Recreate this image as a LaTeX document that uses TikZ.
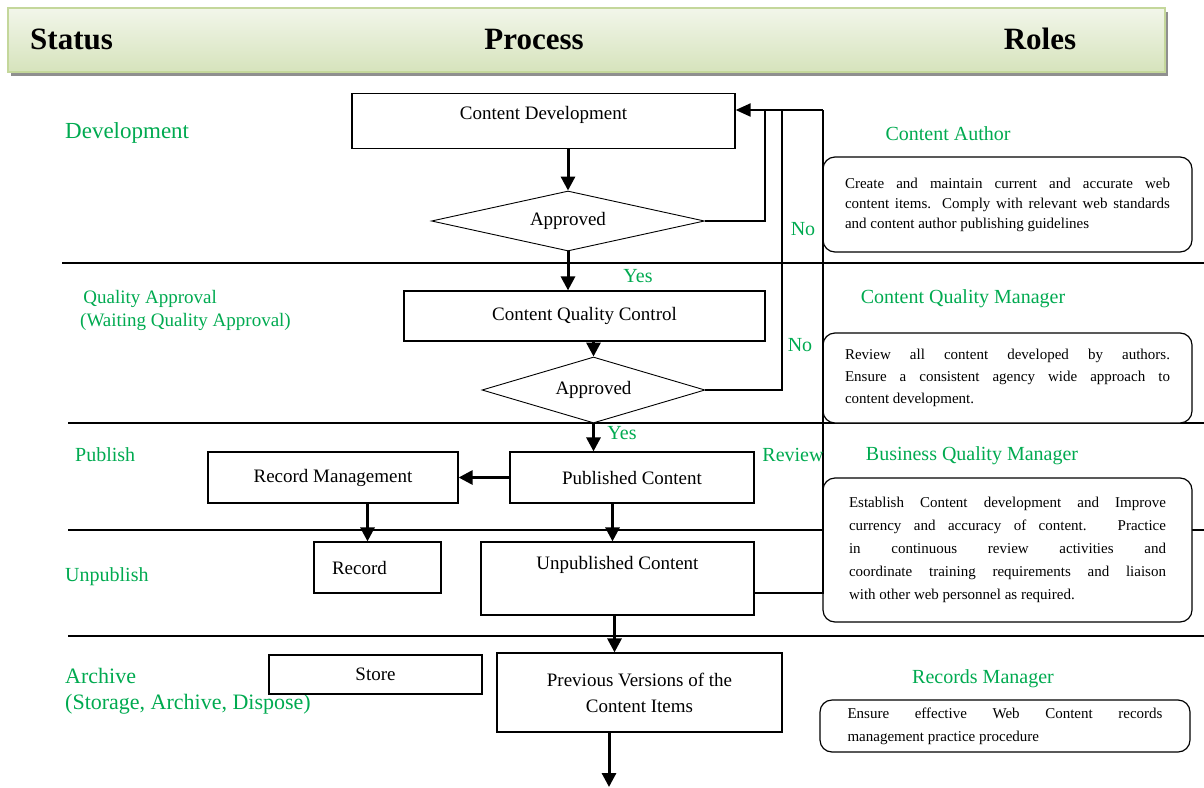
\documentclass[tikz,border=0pt]{standalone}
\usepackage{fontspec}
\setmainfont{Liberation Serif}
\usetikzlibrary{shapes.geometric,arrows.meta,shadows}
\definecolor{stgreen}{RGB}{0,170,80}
\definecolor{barline}{RGB}{196,215,155}
\definecolor{bartop}{RGB}{242,246,234}
\definecolor{barbot}{RGB}{214,227,188}
\newcommand{\fsz}[2]{\fontsize{#1}{#2}\selectfont}

\begin{document}
\begin{tikzpicture}[x = 1pt, y = -1pt,
    bar/.style = {draw=barline, line width=1.8pt, top color=bartop, bottom color=barbot,
      drop shadow={shadow xshift=3pt, shadow yshift=-4pt, fill=black!55, opacity=0.8}},
    head/.style = {font=\fsz{31}{36}\bfseries, inner sep=0pt},
    box/.style = {draw, fill=white, line width=1.2pt, inner sep=0pt, font=\fsz{19}{26}, align=center},
    dia/.style = {draw, diamond, fill=white, line width=0.9pt, inner sep=0pt, font=\fsz{19}{24}},
    role/.style = {draw, fill=white, rounded corners=12pt, line width=1.2pt, inner sep=0pt,
      text width=325pt, align=justify, font=\fsz{15}{22}},
    status/.style = {anchor=west, text=stgreen, inner sep=0pt, align=left, font=\fsz{20}{23}},
    lbl/.style = {text=stgreen, inner sep=0pt, font=\fsz{20}{24}},
    arr/.style = {line width=3pt, -{Triangle[width=14pt,length=14pt]}},
    fb/.style = {line width=1.5pt},
    sep/.style = {line width=1.4pt}]
    \useasboundingbox (0,0) rectangle (1204,787);

    \node[bar, minimum width=1157pt, minimum height=64pt] (bar) at (586.5,40) {};
    \node[head, anchor=base west] (hstatus) at (30,49) {Status};
    \node[head, anchor=base] (hprocess) at (534,49) {Process};
    \node[head, anchor=base] (hroles) at (1040,49) {Roles};

    \foreach \y/\x in {263/62, 423/68, 530/68, 636/68}
        \draw[sep] (\x,\y) -- (1204,\y);

    \node[status, font=\fsz{23}{26}] (sdev) at (65,133) {Development};
    \node[status, font=\fsz{19}{23}] (squal) at (80,310.5) {\,Quality Approval\\(Waiting Quality Approval)};
    \node[status] (spub) at (75,455) {Publish};
    \node[status] (sunpub) at (65,577) {Unpublish};
    \node[status, font=\fsz{22}{26}] (sarch) at (65,691) {Archive\\(Storage, Archive, Dispose)};

    \node[lbl] (rauthor) at (948,134) {Content Author};
    \node[lbl] (rcqm) at (963,299) {Content Quality Manager};
    \node[lbl] (rbqm) at (972,456) {Business Quality Manager};
    \node[lbl] (rrec) at (983,679) {Records Manager};

    \node[role, font=\fsz{15}{20}, minimum width=369pt, minimum height=95pt] (r1) at (1007.5,204.5)
        {Create and maintain current and accurate web\linebreak content items. Comply with relevant web standards\linebreak and content author publishing guidelines};
    \node[role, minimum width=369pt, minimum height=90pt] (r2) at (1007.5,378)
        {Review all content developed by authors.\linebreak Ensure a consistent agency wide approach to\linebreak content development.};
    \node[role, font=\fsz{15}{23}, minimum width=369pt, minimum height=144pt, text width=317pt] (r3) at (1007.5,550)
        {Establish Content development and Improve\linebreak currency and accuracy of content. Practice\linebreak in continuous review activities and\linebreak coordinate training requirements and liaison\linebreak with other web personnel as required.};
    \node[role, font=\fsz{15}{23}, minimum width=370pt, minimum height=52pt, text width=315pt] (r4) at (1005,726)
        {Ensure effective Web Content records\linebreak management practice procedure};

    \node[box, minimum width=383pt, text height=26pt, text depth=29pt, anchor=base] (dev) at (543.5,119.5) {Content Development};
    \node[dia, aspect=4.5, minimum width=273pt, minimum height=60pt] (ap1) at (568,221) {Approved};
    \node[box, minimum width=361pt, minimum height=50pt] (cqc) at (584.5,316) {Content Quality Control};
    \node[dia, aspect=3.4, minimum width=223pt, minimum height=66pt] (ap2) at (593.5,390) {Approved};
    \node[box, minimum width=244pt, minimum height=51pt] (pub) at (632,477.5) {Published Content};
    \node[box, minimum width=250pt, minimum height=51pt] (rm) at (333,477.5) {Record Management};
    \node[box, text width=91pt, inner xsep=18pt, align=left, minimum height=51pt] (rec) at (377.5,567.5) {Record};
    \node[box, minimum width=273pt, text height=27pt, text depth=46pt, anchor=base] (uc) at (617.5,569) {Unpublished Content};
    \node[box, minimum width=213pt, minimum height=39pt] (store) at (375.5,674.5) {Store};
    \node[box, minimum width=285pt, minimum height=79pt] (prev) at (639.5,692.5) {Previous Versions of the\\Content Items};
    \coordinate (out) at (609,787);

    \draw[arr] (dev.south -| ap1.north) -- (ap1.north);
    \draw[arr] (ap1.south) -- (ap1.south |- cqc.north);
    \draw[arr] (cqc.south -| ap2.north) -- (ap2.north);
    \draw[arr] (ap2.south) -- (ap2.south |- pub.north);
    \draw[arr] (pub.west) -- (rm.east);
    \draw[arr] ([xshift=-10pt]rec.north |- rm.south) -- ([xshift=-10pt]rec.north);
    \draw[arr] ([xshift=-5pt]uc.north |- pub.south) -- ([xshift=-5pt]uc.north);
    \draw[arr] ([xshift=-3pt]uc.south) -- ([xshift=-3pt]uc.south |- prev.north);
    \draw[arr] (prev.south -| out) -- (out);

    \coordinate (top) at (823,110);
    \coordinate (rev) at (823,593);
    \coordinate (no1) at (765,110);
    \coordinate (no2) at (782,110);
    \draw[fb] (ap1.east) -| (no1);
    \draw[fb] (ap2.east) -| (no2);
    \draw[fb] (uc.east |- rev) -- (rev) -- (top);
    \draw[fb, line width=2pt, -{Triangle[width=13pt,length=15pt]}] (top) -- (top -| dev.east);

    \node[lbl] (yes1) at (638,276) {Yes};
    \node[lbl] (yes2) at (622,433) {Yes};
    \node[lbl] (lno1) at (803,229) {No};
    \node[lbl] (lno2) at (800,345) {No};
    \node[lbl] (lrev) at (793,455) {Review};
\end{tikzpicture}
\end{document}
